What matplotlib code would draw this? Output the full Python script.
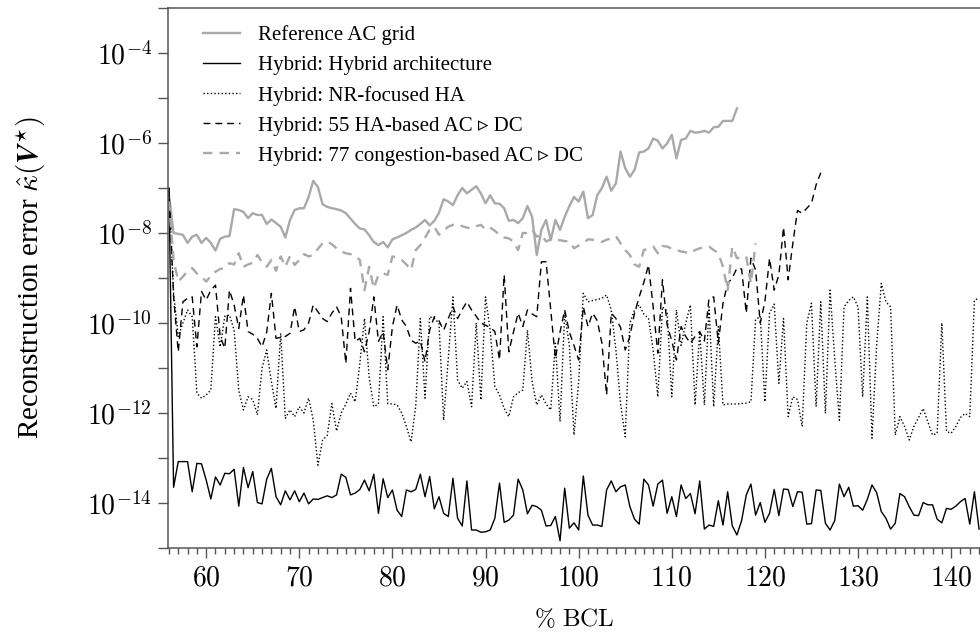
import numpy as np
import matplotlib
matplotlib.use('Agg')
import matplotlib.pyplot as plt
from matplotlib.ticker import FixedLocator, FuncFormatter, MultipleLocator, NullFormatter

plt.rcParams['font.family'] = ['Liberation Serif', 'DejaVu Serif', 'DejaVu Sans']
plt.rcParams['mathtext.fontset'] = 'cm'

# % BCL grid: every series starts at 56 % and is sampled every 0.5 %
bcl_start = 56.0
bcl_step = 0.5

# log10 of the reconstruction error
ref_ac_log = [
    -7.16, -8.0, -8.02, -8.04, -8.22, -8.08, -8.04, -8.22, -8.11, -8.22,
    -8.39, -8.13, -8.08, -8.07, -7.47, -7.49, -7.53, -7.67, -7.56, -7.6,
    -7.6, -7.8, -7.7, -7.78, -7.86, -8.1, -7.71, -7.49, -7.45, -7.45,
    -7.2, -6.84, -6.98, -7.36, -7.42, -7.45, -7.47, -7.5, -7.56, -7.68,
    -7.8, -7.9, -7.92, -8.05, -8.2, -8.27, -8.2, -8.32, -8.14, -8.1,
    -8.05, -8.0, -7.93, -7.88, -7.8, -7.71, -7.83, -7.73, -7.55, -7.25,
    -7.3, -7.38, -7.16, -7.0, -7.12, -7.04, -6.96, -7.12, -7.34, -7.16,
    -7.34, -7.35, -7.45, -7.73, -7.71, -7.78, -7.67, -7.4, -7.64, -8.49,
    -7.93, -7.71, -8.16, -7.71, -7.93, -7.64, -7.4, -7.2, -7.3, -7.08,
    -7.67, -7.6, -7.16, -7.0, -6.75, -7.06, -6.9, -6.19, -6.56, -6.75,
    -6.6, -6.21, -6.19, -6.12, -5.9, -5.95, -6.12, -6.01, -5.82, -6.34,
    -5.93, -5.9, -5.73, -5.77, -5.76, -5.73, -5.77, -5.65, -5.64, -5.51,
    -5.51, -5.51, -5.23,
]

hybrid_arch_log = [
    -7.0, -13.65, -13.08, -13.08, -13.08, -13.75, -13.12, -13.13, -13.49, -13.91,
    -13.42, -13.6, -13.34, -13.35, -13.25, -14.07, -13.21, -13.66, -13.3, -13.99,
    -14.02, -13.47, -13.23, -13.86, -14.04, -13.73, -13.93, -13.73, -13.97, -13.78,
    -14.02, -13.91, -13.92, -13.88, -13.84, -13.88, -13.82, -13.36, -13.43, -13.82,
    -13.78, -13.7, -13.49, -13.73, -13.36, -14.23, -13.46, -13.88, -13.71, -14.16,
    -14.3, -13.71, -13.75, -13.7, -13.36, -13.86, -13.41, -14.13, -13.86, -14.23,
    -14.3, -13.45, -14.34, -14.51, -13.51, -14.6, -14.6, -14.65, -14.64, -14.6,
    -14.34, -13.56, -14.43, -14.38, -14.27, -13.47, -13.71, -14.24, -14.05, -14.08,
    -14.16, -14.51, -14.5, -14.3, -14.84, -13.67, -14.56, -14.44, -14.6, -13.4,
    -14.27, -14.49, -14.49, -14.52, -13.71, -13.51, -13.75, -13.64, -13.6, -14.08,
    -14.36, -14.47, -13.47, -13.6, -14.07, -13.58, -13.49, -14.23, -13.86, -14.3,
    -13.6, -13.9, -13.79, -14.24, -13.51, -14.58, -14.49, -14.52, -13.95, -14.49,
    -13.75, -14.51, -14.71, -14.39, -13.82, -13.58, -14.27, -13.99, -14.43, -14.23,
    -13.7, -14.28, -13.69, -13.7, -14.08, -13.75, -13.76, -14.47, -14.46, -13.71,
    -13.72, -14.45, -14.6, -14.39, -13.58, -13.86, -13.65, -14.07, -14.06, -14.16,
    -13.92, -13.6, -13.77, -14.19, -14.34, -14.58, -14.45, -13.79, -13.86, -14.08,
    -14.27, -14.28, -13.99, -14.04, -14.04, -14.36, -14.44, -14.12, -14.14, -14.07,
    -13.97, -13.9, -14.47, -13.75, -14.58,
]

nr_focused_log = [
    -7.0, -9.34, -10.3, -10.0, -9.71, -9.86, -11.56, -11.67, -11.6, -11.49,
    -9.86, -10.53, -9.85, -9.82, -10.16, -11.5, -11.93, -11.64, -11.7, -12.04,
    -11.0, -10.6, -11.3, -11.9, -10.23, -12.12, -11.93, -12.08, -11.86, -12.0,
    -11.67, -12.16, -13.16, -12.6, -12.5, -11.79, -12.4, -12.0, -11.8, -11.56,
    -11.75, -10.9, -9.9, -11.2, -11.86, -11.8, -9.86, -11.79, -11.8, -11.82,
    -12.0, -12.3, -12.64, -11.86, -9.9, -11.67, -9.86, -9.9, -10.0, -12.16,
    -10.8, -9.42, -11.27, -11.45, -11.3, -11.86, -10.0, -11.71, -9.42, -10.16,
    -11.41, -11.6, -11.9, -12.08, -11.64, -11.55, -11.49, -10.16, -11.3, -11.82,
    -11.6, -11.8, -11.93, -10.45, -12.19, -9.78, -10.5, -12.49, -11.3, -9.34,
    -9.53, -9.5, -9.48, -9.45, -9.38, -9.71, -10.6, -11.79, -12.53, -10.0,
    -9.71, -9.6, -9.8, -9.9, -10.6, -11.64, -9.64, -9.75, -11.64, -9.71,
    -10.5, -10.0, -9.6, -11.82, -10.2, -11.82, -9.64, -11.86, -10.08, -11.82,
    -11.8, -11.8, -11.8, -11.79, -11.78, -11.75, -9.93, -9.85, -11.75, -9.78,
    -9.58, -11.34, -9.9, -12.08, -11.64, -11.7, -12.3, -10.0, -9.56, -11.86,
    -9.53, -12.01, -9.27, -10.8, -12.16, -9.64, -9.5, -9.42, -9.64, -11.64,
    -9.42, -12.56, -10.5, -9.12, -9.53, -9.64, -12.49, -12.08, -12.3, -12.6,
    -12.3, -12.1, -11.9, -12.2, -12.49, -12.45, -10.0, -12.41, -12.45, -12.3,
    -12.1, -12.01, -12.08, -9.49, -9.45,
]

ha55_log = [
    -7.0, -9.42, -10.64, -9.53, -9.45, -9.42, -10.53, -9.3, -9.49, -9.27,
    -9.16, -10.3, -10.56, -9.27, -9.6, -10.12, -9.38, -10.19, -10.25, -10.34,
    -10.53, -10.2, -9.34, -10.34, -10.32, -10.3, -10.23, -9.64, -10.19, -10.15,
    -10.0, -9.6, -9.75, -9.9, -9.97, -9.78, -9.64, -9.86, -10.9, -9.23,
    -10.41, -10.34, -10.64, -10.2, -9.42, -10.41, -10.2, -11.04, -10.08, -9.6,
    -9.93, -10.08, -10.38, -10.45, -10.4, -10.86, -10.16, -9.86, -9.95, -10.16,
    -9.9, -9.64, -9.9, -9.7, -9.53, -9.71, -9.85, -10.0, -10.05, -10.1,
    -10.19, -10.82, -8.93, -10.64, -10.2, -9.78, -10.08, -9.71, -9.8, -9.86,
    -8.64, -8.64, -9.7, -10.79, -10.2, -9.71, -10.2, -10.5, -10.82, -9.64,
    -10.08, -9.78, -9.95, -10.45, -11.6, -9.78, -9.9, -10.1, -10.6, -10.3,
    -9.78, -9.42, -9.1, -8.71, -9.64, -10.67, -9.04, -10.04, -10.4, -10.82,
    -10.08, -10.3, -10.45, -10.3, -10.19, -10.4, -9.45, -9.42, -10.45, -9.56,
    -9.12, -9.0, -8.78, -8.8, -9.78, -8.56, -8.82, -10.0, -9.53, -8.56,
    -9.27, -8.93, -7.87, -9.04, -8.23, -7.5, -7.56, -7.45, -7.34, -6.93,
    -6.66,
]

cong77_log = [
    -7.3, -8.6, -9.08, -8.97, -8.85, -8.78, -8.9, -8.97, -9.08, -8.95,
    -8.86, -8.8, -8.78, -8.67, -8.7, -8.45, -8.75, -8.7, -8.66, -8.49,
    -8.65, -8.75, -8.6, -8.84, -8.52, -8.75, -8.51, -8.71, -8.6, -8.47,
    -8.52, -8.49, -8.35, -8.23, -8.19, -8.25, -8.34, -8.41, -8.45, -8.47,
    -8.51, -8.6, -9.27, -8.75, -9.23, -8.93, -8.9, -8.93, -8.52, -8.55,
    -8.6, -8.7, -8.82, -8.38, -8.27, -8.1, -7.93, -7.86, -8.04, -7.95,
    -7.86, -7.82, -7.8, -7.85, -7.88, -7.9, -7.85, -7.82, -7.92, -7.88,
    -7.95, -8.04, -8.1, -8.12, -8.19, -8.38, -8.0, -8.0, -7.93, -8.08,
    -8.04, -8.19, -8.14, -8.16, -8.16, -8.18, -8.19, -8.34, -8.28, -8.23,
    -8.14, -8.15, -8.16, -8.2, -8.15, -8.12, -8.07, -8.23, -8.38, -8.49,
    -8.7, -8.75, -8.38, -8.34, -8.3, -8.45, -8.29, -8.3, -8.35, -8.38,
    -8.41, -8.43, -8.45, -8.38, -8.34, -8.32, -8.3, -8.38, -8.45, -8.75,
    -9.27, -8.3, -8.56, -8.54, -8.52, -9.12, -8.23,
]

labels = [
    'Reference AC grid',
    'Hybrid: Hybrid architecture',
    'Hybrid: NR-focused HA',
    'Hybrid: 55 HA-based AC \u25B9 DC',
    'Hybrid: 77 congestion-based AC \u25B9 DC',
]


def bcl_of(series):
    return bcl_start + bcl_step * np.arange(len(series))


grey = '#a9a9a9'
styles = [
    dict(color=grey, lw=1.7, ls='-'),
    dict(color='black', lw=1.0, ls='-'),
    dict(color='black', lw=1.0, ls=(0, (1, 1.6))),
    dict(color='black', lw=1.0, ls=(0, (5, 3.5))),
    dict(color=grey, lw=1.7, ls=(0, (4, 3))),
]
series = [ref_ac_log, hybrid_arch_log, nr_focused_log, ha55_log, cong77_log]

fig = plt.figure(figsize=(9.8, 6.37), dpi=100)
ax = fig.add_axes([168 / 980, 89 / 637, 812 / 980, 540 / 637])

for vals, lab, st in zip(series, labels, styles):
    ax.plot(bcl_of(vals), 10.0 ** np.array(vals), label=lab, **st)

ax.set_yscale('log')
ax.set_ylim(1e-15, 1e-3)
ax.set_xlim(55.9, 143.1)

# ticks
ax.yaxis.set_major_locator(FixedLocator([10.0 ** e for e in range(-14, -3, 2)]))
ax.yaxis.set_minor_locator(FixedLocator([10.0 ** e for e in range(-15, -2, 2)]))
ax.yaxis.set_major_formatter(FuncFormatter(lambda v, p: r'$10^{%d}$' % round(np.log10(v))))
ax.yaxis.set_minor_formatter(NullFormatter())
ax.xaxis.set_major_locator(MultipleLocator(10))
ax.xaxis.set_minor_locator(MultipleLocator(1))
ax.xaxis.set_major_formatter(FuncFormatter(lambda v, p: r'$%d$' % v))

spine_col = '#555555'
ax.tick_params(axis='y', which='both', direction='out', length=7.5, width=1.0,
               color=spine_col, labelsize=20, pad=4)
ax.tick_params(axis='x', which='major', direction='out', length=7.5, width=1.0,
               color=spine_col, labelsize=20, pad=6)
ax.tick_params(axis='x', which='minor', direction='out', length=4, width=1.0,
               color=spine_col)

for side in ['left', 'bottom', 'top']:
    ax.spines[side].set_color(spine_col)
    ax.spines[side].set_linewidth(1.1)
ax.spines['right'].set_visible(False)

ax.set_xlabel(r'$\%\ \mathrm{BCL}$', fontsize=18)
ax.xaxis.set_label_coords(0.5, -0.11)
ax.set_ylabel(r'Reconstruction error $\hat{\kappa}(\boldsymbol{V}^{\star})$', fontsize=21)
ax.yaxis.set_label_coords(-0.148, 0.5)

ax.legend(loc='upper left', bbox_to_anchor=(0.043, 0.968), frameon=False,
          fontsize=15, handlelength=1.8, handletextpad=0.85, labelspacing=0.5,
          borderaxespad=0, borderpad=0)

fig.savefig('out.png', dpi=100)
